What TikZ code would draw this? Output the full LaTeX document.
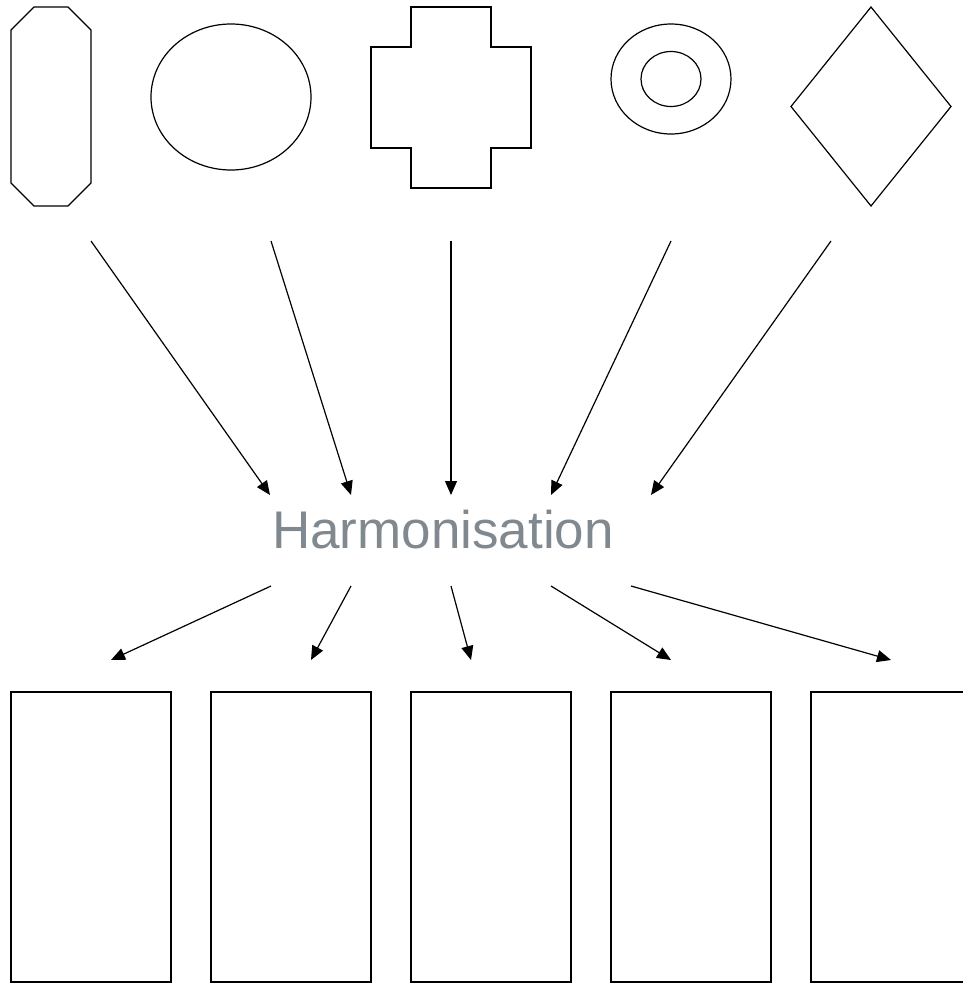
\documentclass[tikz,border=0pt]{standalone}
\usepackage{fontspec}
\setmainfont{Liberation Sans}
\usetikzlibrary{arrows.meta,positioning,shapes.geometric}
\definecolor{harmgrey}{RGB}{128,137,143}

\begin{document}
\begin{tikzpicture}[x=1pt, y=-1pt, line width=1.2pt,
outline/.style = {draw, inner sep=0pt, outer sep=0pt},
sheet/.style = {outline, rectangle, minimum width=160pt, minimum height=290pt},
link/.style = {-{Triangle[length=14pt,width=12pt]}}]
\useasboundingbox (0,0) rectangle (963,983);
\clip (0,0) rectangle (963,983);
% source shapes
\draw (34,7) -- (68,7) -- (91,30) -- (91,183) -- (68,206) -- (34,206) -- (11,183) -- (11,30) -- cycle;
\node[outline, ellipse, minimum width=160pt, minimum height=146pt] (oval) at (231,97) {};
\draw (371,47) -| (411,7) -| (491,47) -| (531,148) -| (491,188) -| (411,148) -| (371,47) -- cycle;
\node[outline, ellipse, minimum width=120pt, minimum height=110pt] (ring) at (671,79) {};
\node[outline, ellipse, minimum width=60pt, minimum height=55pt] (ringin) at (ring) {};
\node[outline, diamond, minimum width=160pt, minimum height=199pt] (rhomb) at (871,106.5) {};
% middle
\node[text=harmgrey, font=\fontsize{53}{60}\selectfont] (harm) at (443,530) {Harmonisation};
% results
\node[sheet] (r1) at (91,837) {};
\node[sheet] (r2) at (291,837) {};
\node[sheet] (r3) at (491,837) {};
\node[sheet] (r4) at (691,837) {};
\node[sheet] (r5) at (891,837) {};
% arrow ends
\coordinate (a1) at (91,241);  \coordinate (b1) at (270,495);
\coordinate (a2) at (271,241); \coordinate (b2) at (351,495);
\coordinate (a3) at (451,241); \coordinate (b3) at (451,495);
\coordinate (a4) at (671,241); \coordinate (b4) at (551,495);
\coordinate (a5) at (831,241); \coordinate (b5) at (651,495);
\coordinate (c1) at (271,586); \coordinate (d1) at (111,660);
\coordinate (c2) at (351,586); \coordinate (d2) at (311,660);
\coordinate (c3) at (451,586); \coordinate (d3) at (471,660);
\coordinate (c4) at (551,586); \coordinate (d4) at (671,660);
\coordinate (c5) at (631,586); \coordinate (d5) at (891,660);
\draw[link] (a1) -- (b1);
\draw[link] (a2) -- (b2);
\draw[link] (a3) -- (b3);
\draw[link] (a4) -- (b4);
\draw[link] (a5) -- (b5);
\draw[link] (c1) -- (d1);
\draw[link] (c2) -- (d2);
\draw[link] (c3) -- (d3);
\draw[link] (c4) -- (d4);
\draw[link] (c5) -- (d5);
\end{tikzpicture}
\end{document}
